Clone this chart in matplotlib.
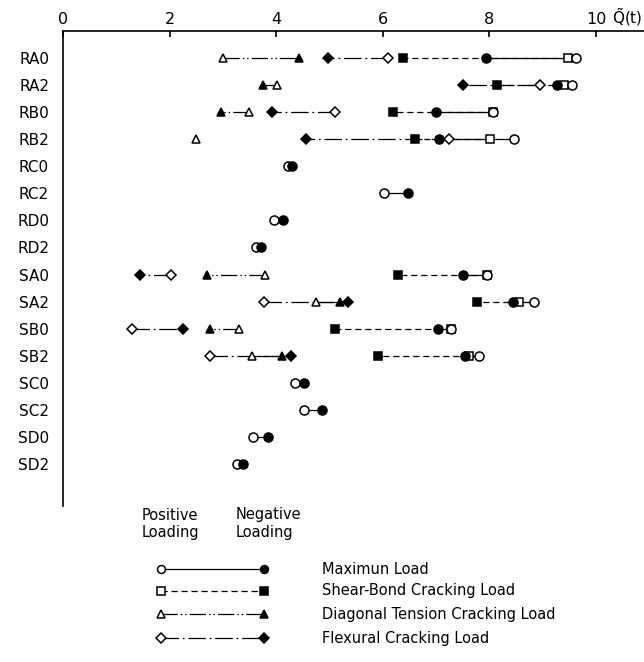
import matplotlib.pyplot as plt
import numpy as np

nan = np.nan

specimens = ["RA0", "RA2", "RB0", "RB2", "RC0", "RC2", "RD0", "RD2",
             "SA0", "SA2", "SB0", "SB2", "SC0", "SC2", "SD0", "SD2"]

# open marker = positive loading, filled marker = negative loading
max_pos = [9.62, 9.55, 8.07, 8.46, 4.22, 6.02, 3.95, 3.63,
           7.95, 8.84, 7.27, 7.81, 4.35, 4.52, 3.57, 3.27]
max_neg = [7.93, 9.27, 6.99, 7.05, 4.30, 6.47, 4.13, 3.71,
           7.51, 8.45, 7.04, 7.54, 4.52, 4.86, 3.85, 3.37]

shear_pos = [9.48, 9.40, 8.07, 8.01, nan, nan, nan, nan,
             7.96, 8.56, 7.28, 7.62, nan, nan, nan, nan]
shear_neg = [6.37, 8.14, 6.20, 6.60, nan, nan, nan, nan,
             6.29, 7.77, 5.10, 5.91, nan, nan, nan, nan]

diag_pos = [3.01, 4.02, 3.49, 2.49, nan, nan, nan, nan,
            3.79, 4.75, 3.30, 3.55, nan, nan, nan, nan]
diag_neg = [4.42, 3.75, 2.97, nan, nan, nan, nan, nan,
            2.70, 5.20, 2.76, 4.11, nan, nan, nan, nan]

flex_pos = [6.10, 8.95, 5.10, 7.24, nan, nan, nan, nan,
            2.02, 3.77, 1.29, 2.76, nan, nan, nan, nan]
flex_neg = [4.98, 7.50, 3.92, 4.56, nan, nan, nan, nan,
            1.44, 5.35, 2.25, 4.28, nan, nan, nan, nan]

xticks = [0, 2, 4, 6, 8, 10]

series = [
    ("Maximun Load", max_pos, max_neg, "o", 6.5, "-"),
    ("Shear-Bond Cracking Load", shear_pos, shear_neg, "s", 6, (0, (5, 3))),
    ("Diagonal Tension Cracking Load", diag_pos, diag_neg, "^", 6, (0, (13, 2.5, 1.2, 2.2, 1.2, 2.5))),
    ("Flexural Cracking Load", flex_pos, flex_neg, "D", 5.5, (0, (14, 3, 1.5, 3))),
]

fig = plt.figure(figsize=(6.44, 6.62), dpi=100)
ax = fig.add_axes([63 / 644, 1 - 506 / 662, 581 / 644, 475 / 662])

y = np.arange(len(specimens))

# connecting lines first, markers on top
for name, pos, neg, mk, ms, ls in series:
    pos = np.array(pos)
    neg = np.array(neg)
    for i in y:
        if not np.isnan(pos[i]) and not np.isnan(neg[i]):
            ax.plot([pos[i], neg[i]], [i, i], color="k", lw=0.9, ls=ls, zorder=1)

for k, (name, pos, neg, mk, ms, ls) in enumerate(reversed(series)):
    ax.plot(pos, y, ls="none", marker=mk, ms=ms, mfc="white", mec="k", mew=1.1, zorder=2 + k)
    ax.plot(neg, y, ls="none", marker=mk, ms=ms, mfc="k", mec="k", mew=1.1, zorder=2 + k)

ax.set_xlim(0, 10.9)
ax.set_ylim(16.53, -0.98)
ax.spines["right"].set_visible(False)
ax.spines["bottom"].set_visible(False)
ax.spines["top"].set_linewidth(1.2)
ax.spines["left"].set_linewidth(1.2)
ax.xaxis.tick_top()
ax.set_xticks(xticks)
ax.set_xticklabels([str(t) for t in xticks])
ax.tick_params(axis="x", direction="in", length=4, width=1.2, pad=3, labelsize=11.5)
ax.set_yticks(y)
ax.set_yticklabels(specimens)
ax.tick_params(axis="y", length=0, pad=10, labelsize=11)
ax.text(10.3, -1.1, r"$\tilde{\mathrm{Q}}$(t)", fontsize=11, ha="left", va="bottom",
        transform=ax.transData, clip_on=False)

# legend drawn in pixel coordinates
leg = fig.add_axes([0, 0, 1, 1])
leg.set_xlim(0, 644)
leg.set_ylim(662, 0)
leg.axis("off")
leg.text(142, 524, "Positive\nLoading", fontsize=10.5, ha="left", va="center", linespacing=1.25)
leg.text(236, 524, "Negative\nLoading", fontsize=10.5, ha="left", va="center", linespacing=1.25)

leg_rows = [569, 591, 614, 638]
for (name, pos, neg, mk, ms, ls), ly in zip(series, leg_rows):
    leg.plot([161, 264], [ly, ly], color="k", lw=0.9, ls=ls)
    leg.plot([161], [ly], marker=mk, ms=ms - 0.8, mfc="white", mec="k", mew=1.1)
    leg.plot([264], [ly], marker=mk, ms=ms - 0.8, mfc="k", mec="k", mew=1.1)
    leg.text(322, ly, name, fontsize=10.5, ha="left", va="center")

plt.savefig("out.png", dpi=100)
plt.close()
